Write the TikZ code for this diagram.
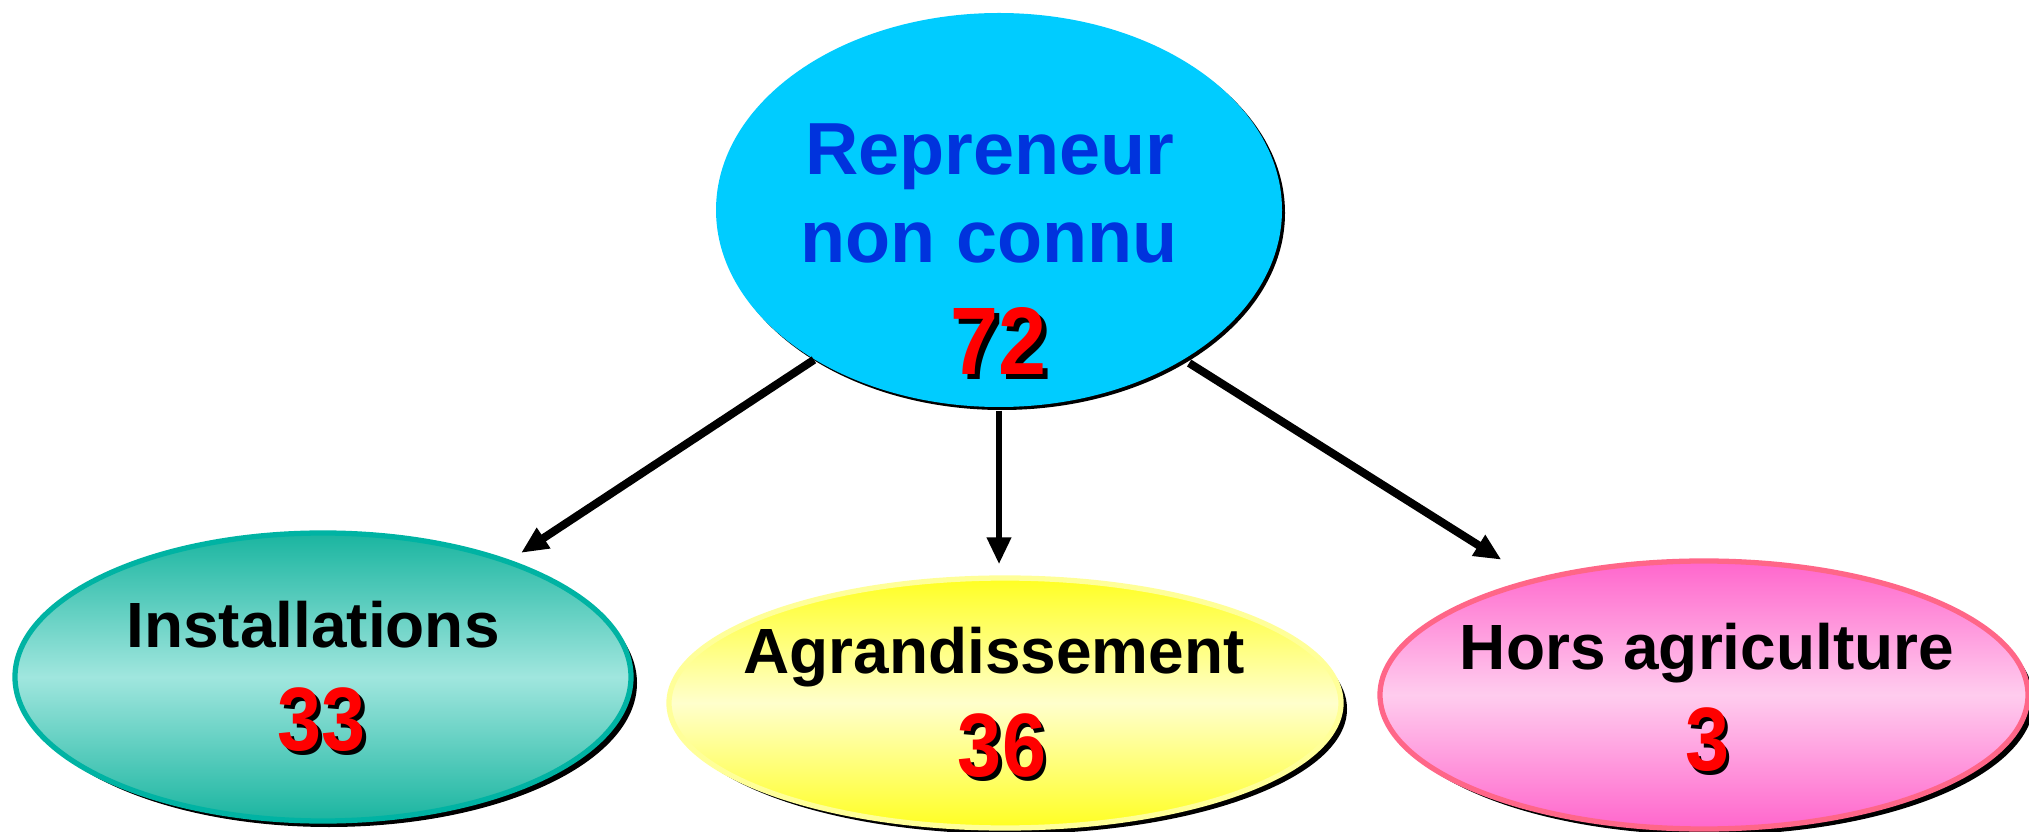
\documentclass[tikz,border=0pt]{standalone}
\usepackage{fontspec}
\setmainfont{Liberation Sans}
\usetikzlibrary{positioning}
\usetikzlibrary{shapes.geometric}
\usetikzlibrary{shadows}
\usetikzlibrary{arrows.meta}
\definecolor{cyanfond}{HTML}{00CCFF}
\definecolor{bleutexte}{HTML}{0033DD}
\definecolor{vertfonce}{HTML}{1AB5A0}
\definecolor{vertclair}{HTML}{A0E6DE}
\definecolor{vertbord}{HTML}{00B3A3}
\definecolor{jaunefonce}{HTML}{FFFF22}
\definecolor{jauneclair}{HTML}{FFFFCC}
\definecolor{jaunebord}{HTML}{FFFF99}
\definecolor{rosefonce}{HTML}{FF66CC}
\definecolor{roseclair}{HTML}{FFCCEE}
\definecolor{rosebord}{HTML}{FF6688}
% red figures with a black shadow
\newcommand\ombre[1]{\makebox[0pt][l]{\hspace{0.045cm}\raisebox{-0.045cm}{\color{black}#1}}{\color{red}#1}}

\begin{document}
\begin{tikzpicture}[
    bulle/.style={ellipse, inner sep=0pt, line width=1.5pt,
      drop shadow={shadow xshift=0.06cm, shadow yshift=-0.06cm, fill=black, opacity=1}},
    titre/.style={anchor=base, inner sep=0pt, font=\bfseries\fontsize{18.2}{21}\selectfont},
    chiffre/.style={anchor=base, inner sep=0pt, font=\bfseries\fontsize{25.6}{30}\selectfont},
    fleche/.style={-{Triangle[length=0.27cm,width=0.23cm]}, line width=2.3pt}
  ]
  \useasboundingbox (0,0) rectangle (20.29,8.31);

  % top ellipse
  \node[ellipse, inner sep=0pt, fill=cyanfond, minimum width=5.66cm, minimum height=3.94cm,
    drop shadow={shadow xshift=0.03cm, shadow yshift=-0.03cm, fill=black, opacity=1}]
    (top) at (9.99,6.21) {};
  \node[anchor=base, inner sep=0pt, text=bleutexte, font=\bfseries\fontsize{21}{25}\selectfont]
    (top-l1) at (9.90,6.56) {Repreneur};
  \node[anchor=base, inner sep=0pt, text=bleutexte, font=\bfseries\fontsize{21}{25}\selectfont]
    (top-l2) at (9.89,5.68) {non connu};
  \node[anchor=base, inner sep=0pt, font=\bfseries\fontsize{27.3}{32}\selectfont]
    (top-n) at (9.99,4.56) {\scalebox{0.9}[1]{\ombre{72}}};

  % bottom ellipses
  \node[bulle, draw=vertbord, top color=vertfonce, bottom color=vertfonce, middle color=vertclair,
    minimum width=6.16cm, minimum height=2.88cm] (inst) at (3.23,1.54) {};
  \node[titre] (inst-t) at (3.13,1.84) {Installations};
  \node[chiffre] (inst-n) at (3.22,0.81) {\scalebox{0.88}[1]{\ombre{33}}};

  \node[bulle, draw=jaunebord, top color=jaunefonce, bottom color=jaunefonce, middle color=jauneclair,
    minimum width=6.72cm, minimum height=2.50cm] (agr) at (10.05,1.28) {};
  \node[titre] (agr-t) at (9.94,1.58) {Agrandissement};
  \node[chiffre] (agr-n) at (10.02,0.55) {\scalebox{0.88}[1]{\ombre{36}}};

  \node[bulle, draw=rosebord, top color=rosefonce, bottom color=rosefonce, middle color=roseclair,
    minimum width=6.48cm, minimum height=2.68cm] (hors) at (17.04,1.36) {};
  \node[titre] (hors-t) at (17.07,1.62) {Hors agriculture};
  \node[chiffre] (hors-n) at (17.07,0.61) {\scalebox{0.88}[1]{\ombre{3}}};

  % arrows
  \draw[fleche, shorten >=0.13cm] (top.219.3) -- (inst.32.2);
  \draw[fleche, line width=1.9pt, shorten <=0.03cm, shorten >=0.11cm] (top.south) -- (top.south |- agr.north);
  \draw[fleche, shorten <=0.06cm, shorten >=0.36cm] (top.321.7) -- (hors.146.4);
\end{tikzpicture}
\end{document}
